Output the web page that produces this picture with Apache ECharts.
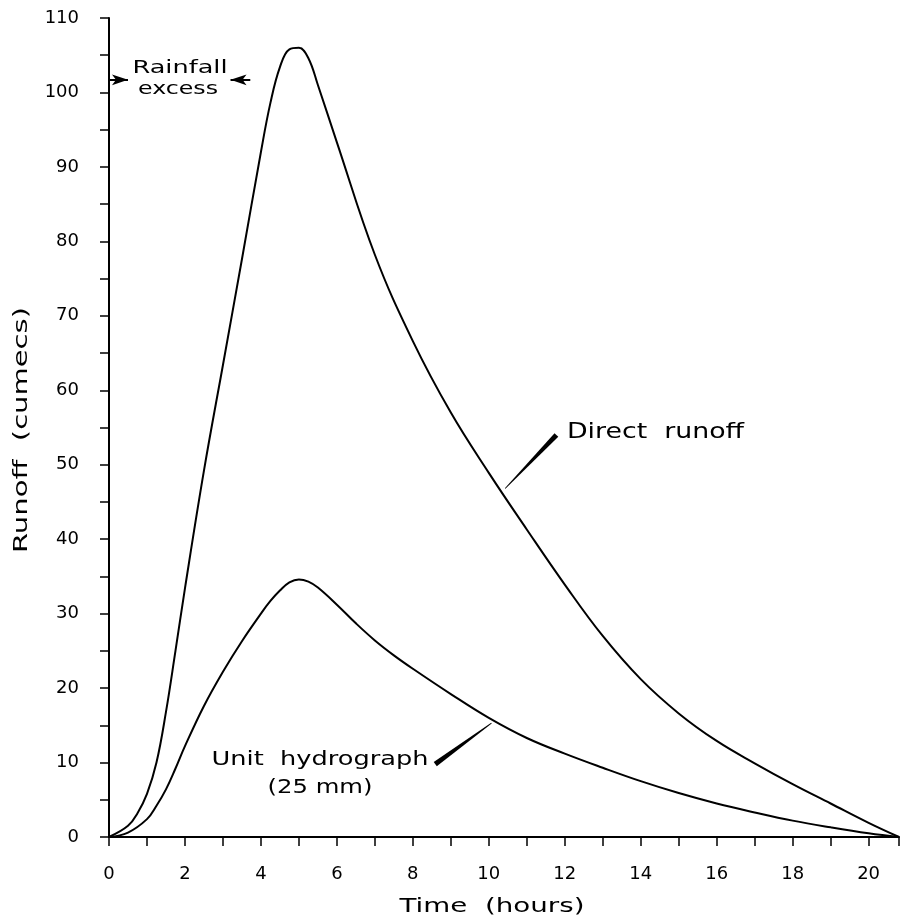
<!DOCTYPE html>
<html>
<head>
<meta charset="utf-8">
<script src="https://cdn.jsdelivr.net/npm/echarts@6/dist/echarts.min.js"></script>
<style>
html,body{margin:0;padding:0;background:#fff;}
#chart{width:902px;height:918px;}
</style>
</head>
<body>
<div id="chart"></div>
<script>
// Direct runoff: time (hours) and runoff (cumecs)
var directHours  = [0,0.5,0.75,1,1.25,1.5,1.75,2,2.5,3,3.5,4,4.25,4.5,4.75,5,5.25,5.5,6,7,8,9,10,11,12,13,14,15,16,17,18,19,20,20.8];
var directRunoff = [0,1.5,3.2,5.8,10.0,16.8,25.0,33.4,49.2,63.4,77.6,92.0,98.6,103.4,105.8,106.0,104.6,101.0,93.3,78.2,66.6,57.0,48.9,41.3,33.9,27.0,21.2,16.6,12.9,9.9,7.1,4.5,1.9,0];
// Unit hydrograph (25 mm): time (hours) and runoff (cumecs)
var unitHours = [0,0.5,1,1.25,1.5,1.75,2,2.5,3,3.5,4,4.25,4.5,4.75,5,5.25,5.5,6,6.5,7,7.5,8,9,10,11,12,13,14,15,16,17,18,19,20,20.8];
var unitHydrograph = [0,0.6,2.4,4.2,6.4,9.2,12.2,17.6,22.2,26.3,30.0,31.7,33.1,34.2,34.6,34.3,33.5,31.2,28.7,26.4,24.4,22.6,19.2,16.0,13.3,11.2,9.3,7.5,5.9,4.5,3.3,2.2,1.3,0.5,0];
// Annotation leader wedges: [tip t, tip v, base t, base v]
var leaders = [[10.43,46.8,11.78,54.0],[10.07,15.3,8.59,9.8]];
// Rainfall excess arrows: [start t, end t, level]
var rainArrows = [[0,0.5,101.7],[3.72,3.2,101.7]];
var xTicks = [0,2,4,6,8,10,12,14,16,18,20];
var yTicks = [0,10,20,30,40,50,60,70,80,90,100,110];

function pairs(xs, ys){ return xs.map(function(x,i){ return [x, ys[i]]; }); }

var FONT = 'DejaVu Sans';
var mctx = document.createElement('canvas').getContext('2d');
function fitScale(text, size, target){
  mctx.font = size + 'px "' + FONT + '"';
  return target / mctx.measureText(text).width;
}
function label(text, x, y, size, target, align, rot){
  var s = fitScale(text, size, target);
  return {type:'text', x:x, y:y, rotation:rot||0, scaleX:s, scaleY:1, silent:true,
    style:{text:text, fontSize:size, fontFamily:FONT, fill:'#000', align:align||'center', verticalAlign:'middle'}};
}

var chart = echarts.init(document.getElementById('chart'), null, {renderer:'canvas'});
var option = {
  animation:false,
  backgroundColor:'#fff',
  textStyle:{fontFamily:FONT,color:'#000'},
  grid:{left:109,right:1,top:18,bottom:81,containLabel:false},
  xAxis:{
    type:'value',min:0,max:20.8,interval:1,
    axisLine:{lineStyle:{color:'#000',width:2}},
    axisTick:{inside:false,length:9,lineStyle:{color:'#000',width:1.5}},
    axisLabel:{margin:28,fontSize:18,fontFamily:FONT,color:'#000',
      formatter:function(v){ return (xTicks.indexOf(v)>=0)? String(v):''; }},
    splitLine:{show:false}
  },
  yAxis:{
    type:'value',min:0,max:110,interval:5,
    axisLine:{show:true,lineStyle:{color:'#000',width:2}},
    axisTick:{show:true,inside:false,length:9,lineStyle:{color:'#000',width:1.5}},
    axisLabel:{margin:30,fontSize:18,fontFamily:FONT,color:'#000',
      formatter:function(v){ return (yTicks.indexOf(v)>=0)? String(v):''; }},
    splitLine:{show:false}
  },
  series:[
    {type:'line',name:'Direct runoff',data:pairs(directHours,directRunoff),smooth:0.4,showSymbol:false,
      lineStyle:{color:'#000',width:2},
      markLine:{silent:true,symbol:['none','arrow'],symbolSize:[8,16],label:{show:false},
        lineStyle:{color:'#000',width:2,type:'solid'},
        data:rainArrows.map(function(a){ return [{coord:[a[0],a[2]]},{coord:[a[1],a[2]]}]; })}
    },
    {type:'line',name:'Unit hydrograph',data:pairs(unitHours,unitHydrograph),smooth:0.4,showSymbol:false,
      lineStyle:{color:'#000',width:2}},
    {type:'custom',name:'leaders',data:leaders,encode:{x:[0,2],y:[1,3]},silent:true,
      renderItem:function(params,api){
        var p1 = api.coord([api.value(0),api.value(1)]);
        var p2 = api.coord([api.value(2),api.value(3)]);
        var dx=p2[0]-p1[0], dy=p2[1]-p1[1], L=Math.sqrt(dx*dx+dy*dy);
        var nx=-dy/L, ny=dx/L, w=2.6, w0=0.4;
        return {type:'polygon',shape:{points:[
          [p1[0]+nx*w0,p1[1]+ny*w0],[p2[0]+nx*w,p2[1]+ny*w],[p2[0]-nx*w,p2[1]-ny*w],[p1[0]-nx*w0,p1[1]-ny*w0]]},
          style:{fill:'#000'}};
      }}
  ],
  graphic:[
    label('Rainfall', 180, 68, 18, 95, 'center'),
    label('excess', 178, 89, 18, 80, 'center'),
    label('Direct  runoff', 567, 433, 21, 177, 'left'),
    label('Unit  hydrograph', 320, 760, 19, 217, 'center'),
    label('(25 mm)', 320, 788, 19, 105, 'center'),
    label('Time  (hours)', 492, 907, 20, 185, 'center'),
    label('Runoff  (cumecs)', 22, 430, 20, 246, 'center', Math.PI/2)
  ]
};
chart.setOption(option);
</script>
</body>
</html>
